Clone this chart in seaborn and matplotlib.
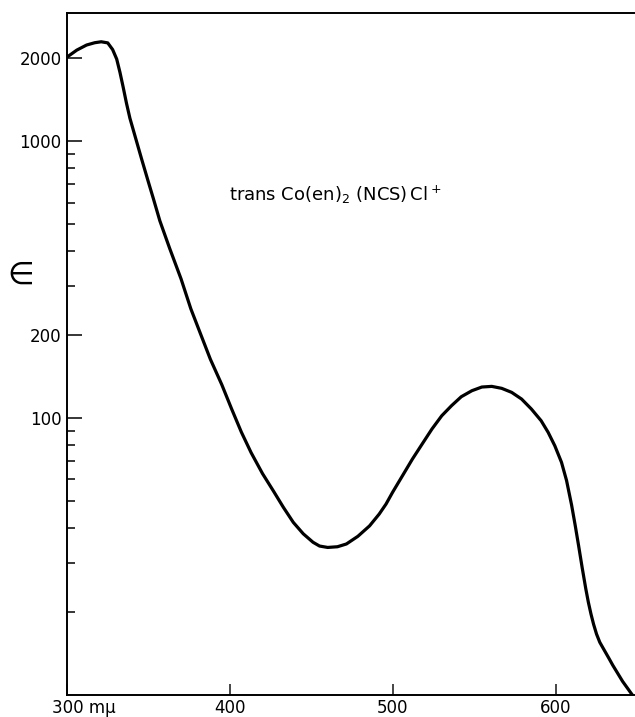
import numpy as np
import pandas as pd
import matplotlib
matplotlib.use("Agg")
import matplotlib.pyplot as plt
import matplotlib.transforms as mtransforms
from matplotlib.ticker import FixedLocator, NullFormatter
import seaborn as sns

# absorption spectrum (wavelength in m-mu, molar extinction)
wavelength = [300, 306, 312, 317, 321, 325, 328, 330.5, 332.5, 334.5, 336.5,
              338.6, 341.7, 345.8, 350, 353, 357, 363, 370, 376, 382, 388, 395,
              401, 407, 413, 420, 426.7, 432.8, 438.9, 445, 451, 455, 460, 466,
              471.5, 478.5, 485.7, 491.6, 495.8, 499.8, 505.9, 512, 518, 524,
              530, 536, 542, 548.5, 554.6, 560.7, 566.8, 572.9, 579, 585, 591,
              595.3, 599.4, 603.5, 606.6, 609.7, 611.9, 614, 616.2, 618.4, 620,
              621.6, 623.2, 625, 627, 629.8, 632.5, 635, 641, 647]
epsilon = [2010, 2130, 2222, 2265, 2283, 2262, 2140, 1977, 1771, 1563, 1370,
           1210, 1045, 861, 710, 620, 515, 410, 318, 248, 201, 163, 132, 108,
           89, 75, 63, 54.5, 47.6, 42.0, 38.2, 35.6, 34.5, 34.1, 34.3, 35.1,
           37.4, 40.8, 45.0, 48.9, 53.9, 61.9, 71.1, 80.6, 91.3, 101.9, 110.8,
           119.4, 125.5, 129.4, 130.1, 128.0, 123.8, 117.1, 107.8, 97.8, 88.8,
           79.4, 69.2, 59.5, 48.5, 41.0, 34.6, 28.8, 24.2, 21.6, 19.6, 18.0,
           16.6, 15.5, 14.5, 13.6, 12.8, 11.2, 10.0]

major_y = [100, 200, 1000, 2000]
major_y_labels = ["100", "200", "1000", "2000"]
minor_y = [20, 30, 40, 50, 60, 70, 80, 90, 300, 400, 500, 600, 700, 800, 900]
x_ticks = [300, 400, 500, 600]
x_tick_labels = ["300 m\u03bc", "400", "500", "600"]
title_text = "trans Co(en)$_2$ (NCS)$\\,$Cl$^+$"

df = pd.DataFrame({"wavelength": wavelength, "epsilon": epsilon})

sns.set_style("ticks")
plt.rcParams["font.family"] = ["DejaVu Sans"]

fig = plt.figure(figsize=(6.35, 7.17), dpi=100)
ax = fig.add_axes([67 / 635, 1 - 695 / 717, (634 - 67) / 635, (695 - 13) / 717])

sns.lineplot(data=df, x="wavelength", y="epsilon", ax=ax, color="black",
             linewidth=2.3, sort=False)

ax.set_yscale("log")
ax.set_xlim(300, 648)
ax.set_ylim(10, 2900)

ax.yaxis.set_major_locator(FixedLocator(major_y))
ax.yaxis.set_minor_locator(FixedLocator(minor_y))
ax.yaxis.set_minor_formatter(NullFormatter())
ax.set_yticklabels(major_y_labels)
ax.set_xticks(x_ticks)
ax.set_xticklabels(x_tick_labels)

ax.tick_params(axis="y", which="major", direction="in", length=11, width=1.3,
               labelsize=12, pad=4, labelcolor="black")
ax.tick_params(axis="y", which="minor", direction="in", length=6, width=1.3)
ax.tick_params(axis="x", which="major", direction="in", length=8, width=1.2,
               labelsize=12, pad=3, labelcolor="black")
ax.tick_params(axis="x", which="minor", bottom=False)

for side in ["left", "bottom", "top"]:
    ax.spines[side].set_linewidth(1.4)
    ax.spines[side].set_color("black")
ax.spines["right"].set_visible(False)

# shift the first x label so that "300" sits under the axis corner
offset = mtransforms.ScaledTranslation(17 / 100, 0, fig.dpi_scale_trans)
first = ax.get_xticklabels()[0]
first.set_transform(first.get_transform() + offset)

ax.set_xlabel("")
ax.set_ylabel("\u2208", rotation=0, fontsize=22, va="center", ha="center",
              color="black")
ax.yaxis.set_label_coords(-0.081, 0.616)

ax.text(399.5, 607, title_text, fontsize=13, color="black",
        ha="left", va="baseline")

fig.savefig("out.png", dpi=100)
